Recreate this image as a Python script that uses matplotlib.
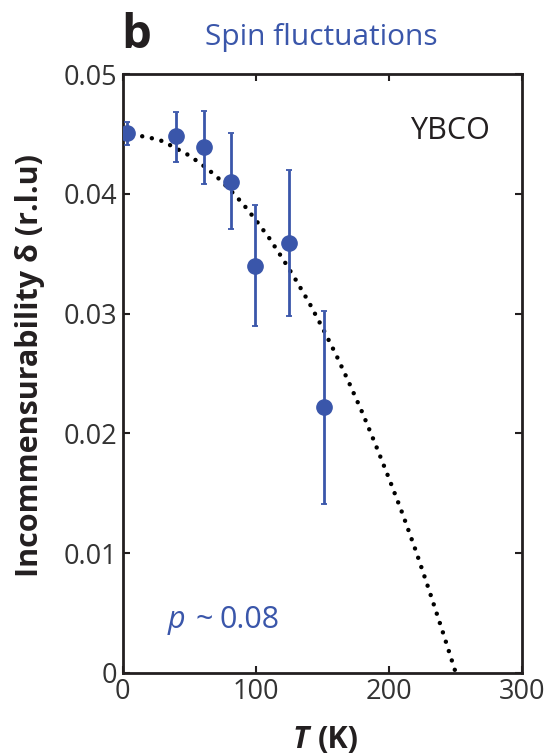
import matplotlib.pyplot as plt
import numpy as np

# measured points (T in K, incommensurability delta in r.l.u.)
temps = [3, 40, 61, 81, 99, 125, 151]
delta = [0.0451, 0.0448, 0.0439, 0.0410, 0.0340, 0.0359, 0.0222]
err_low = [0.0010, 0.0021, 0.0031, 0.0039, 0.0050, 0.0061, 0.0081]
err_high = [0.0009, 0.0020, 0.0030, 0.0041, 0.0051, 0.0061, 0.0080]

# dotted guide curve
curve_t = [0, 10, 20, 30, 40, 50, 60, 70, 80, 90, 100, 110, 120, 130,
           140, 150, 160, 170, 180, 190, 200, 210, 220, 230, 240, 250]
curve_d = [0.0450, 0.0449, 0.0447, 0.0444, 0.0438, 0.0432, 0.0424, 0.0415,
           0.0404, 0.0392, 0.0378, 0.0363, 0.0346, 0.0328, 0.0309, 0.0288,
           0.0266, 0.0242, 0.0217, 0.0190, 0.0162, 0.0133, 0.0102, 0.0069,
           0.0035, 0.0000]

xticks = [0, 100, 200, 300]
yticks = [0, 0.01, 0.02, 0.03, 0.04, 0.05]
ytick_labels = ['0', '0.01', '0.02', '0.03', '0.04', '0.05']

blue = '#3a56aa'
dark = '#231f20'
plt.rcParams['font.family'] = ['Open Sans', 'DejaVu Sans']

fig = plt.figure(figsize=(5.49, 7.56), dpi=100)
ax = fig.add_axes([0.2235, 0.11, 0.728, 0.792])

ax.plot(curve_t, curve_d, color='black', linewidth=3.2,
        linestyle=(0, (0.01, 2.2)), dash_capstyle='round', zorder=2)
ax.errorbar(temps, delta, yerr=[err_low, err_high], fmt='o', color=blue,
            markersize=11, elinewidth=2, capsize=2.5, capthick=1.3, zorder=3)

ax.set_xlim(0, 300)
ax.set_ylim(0, 0.05)
ax.set_xticks(xticks)
ax.set_xticklabels([str(t) for t in xticks])
ax.set_yticks(yticks)
ax.set_yticklabels(ytick_labels)
ax.tick_params(direction='in', length=5, width=1.5, colors=dark,
               labelsize=19.5, top=True, right=True, pad=4)
ax.tick_params(axis='both', labelcolor='#333333')
for s in ax.spines.values():
    s.set_linewidth(2)
    s.set_color(dark)

# axis labels
fig.text(0.055, 0.516, 'Incommensurability δ (r.l.u)', fontsize=22,
         fontweight='bold', color=dark, rotation=90, ha='center', va='center')
fig.text(0.562, 0.021, 'T', fontsize=22, fontweight='bold', style='italic',
         color=dark, ha='right', va='center')
fig.text(0.579, 0.021, '(K)', fontsize=22, fontweight='bold', color=dark,
         ha='left', va='center')

ax.text(0.918, 0.905, 'YBCO', transform=ax.transAxes, fontsize=22,
        color=dark, ha='right', va='center')
ax.text(0.113, 0.088, 'p', transform=ax.transAxes, fontsize=22,
        color=blue, style='italic', ha='left', va='center')
ax.text(0.181, 0.088, '~', transform=ax.transAxes, fontsize=22,
        color=blue, ha='left', va='center')
ax.text(0.243, 0.088, '0.08', transform=ax.transAxes, fontsize=22,
        color=blue, ha='left', va='center')

fig.text(0.221, 0.953, 'b', fontsize=34, fontweight='bold', color=dark,
         ha='left', va='center')
fig.text(0.373, 0.950, 'Spin fluctuations', fontsize=21.5, color=blue,
         ha='left', va='center')

fig.savefig('out.png', dpi=100)
